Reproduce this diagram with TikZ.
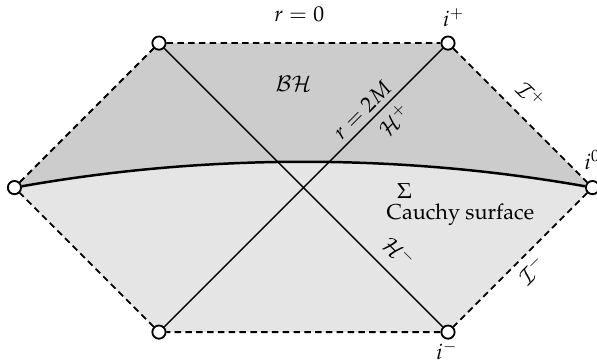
\documentclass[tikz,border=0pt]{standalone}
\usepackage[T1]{fontenc}
\usepackage{mathpazo}
\usepackage{amsmath,amssymb}
\usepackage{tikz}
\usetikzlibrary{positioning,calc,backgrounds}
\usepackage{xcolor}
\definecolor{ink}{RGB}{0,0,0}
\definecolor{bhreg}{RGB}{204,204,204}
\definecolor{extreg}{RGB}{229,229,229}
\tikzset{
  pnt/.style={circle,draw=ink,fill=white,line width=0.85pt,minimum size=2.15mm,inner sep=0pt},
  bdry/.style={line width=0.85pt,ink,dash pattern=on 3pt off 2pt},
  hor/.style={line width=0.7pt,ink},
  slice/.style={line width=1.15pt,ink},
  lbl/.style={inner sep=1pt},
}

\begin{document}
\begin{tikzpicture}[x=2.35cm,y=2.35cm]
\useasboundingbox (-2.100,-1.215) rectangle (2.031,1.298);
% corners of the Penrose diagram
\node[pnt] (L)  at (-2,0) {};
\node[pnt] (TL) at (-1,1) {};
\node[pnt] (TR) at (1,1) {};
\node[pnt] (R)  at (2,0) {};
\node[pnt] (BR) at (1,-1) {};
\node[pnt] (BL) at (-1,-1) {};
% shaded regions, split by the Cauchy surface
\begin{scope}[on background layer]
\fill[bhreg] (L.center) -- (TL.center) -- (TR.center) -- (R.center)
  .. controls (0.667,0.235) and (-0.667,0.235) .. (L.center) -- cycle;
\fill[extreg] (L.center) .. controls (-0.667,0.235) and (0.667,0.235) .. (R.center)
  -- (BR.center) -- (BL.center) -- cycle;
\end{scope}
\draw[bdry] (L) -- (TL) -- (TR) -- (R) -- (BR) -- (BL) -- (L);
\draw[hor] (TL) -- (BR);
\draw[hor] (BL) -- (TR);
\draw[slice] (L) .. controls (-0.667,0.235) and (0.667,0.235) .. (R);
% labels
\node[lbl] (rzero)  at (-0.03,1.2)   {$r=0$};
\node[lbl] (iplus)  at (1.04,1.175)  {$i^+$};
\node[lbl] (izero)  at (2.0,0.19)    {$i^0$};
\node[lbl] (iminus) at (0.993,-1.13) {$i^-$};
\node[lbl] (bh)     at (-0.069,0.72) {$\mathcal{BH}$};
\node[lbl,rotate=45]  (rtwoM)  at (0.405,0.536)  {$r=2M$};
\node[lbl,rotate=45]  (hplus)  at (0.626,0.467)  {$\mathcal{H}^+$};
\node[lbl,rotate=-45] (hminus) at (0.661,-0.446) {$\mathcal{H}^-$};
\node[lbl,rotate=-45] (scrplus)  at (1.574,0.640)  {$\mathcal{I}^+$};
\node[lbl,rotate=45]  (scrminus) at (1.581,-0.571) {$\mathcal{I}^-$};
\node[lbl] (sigma)  at (0.699,-0.024) {$\Sigma$};
\node[lbl] (cauchy) at (1.086,-0.185) {Cauchy surface};
\end{tikzpicture}
\end{document}
